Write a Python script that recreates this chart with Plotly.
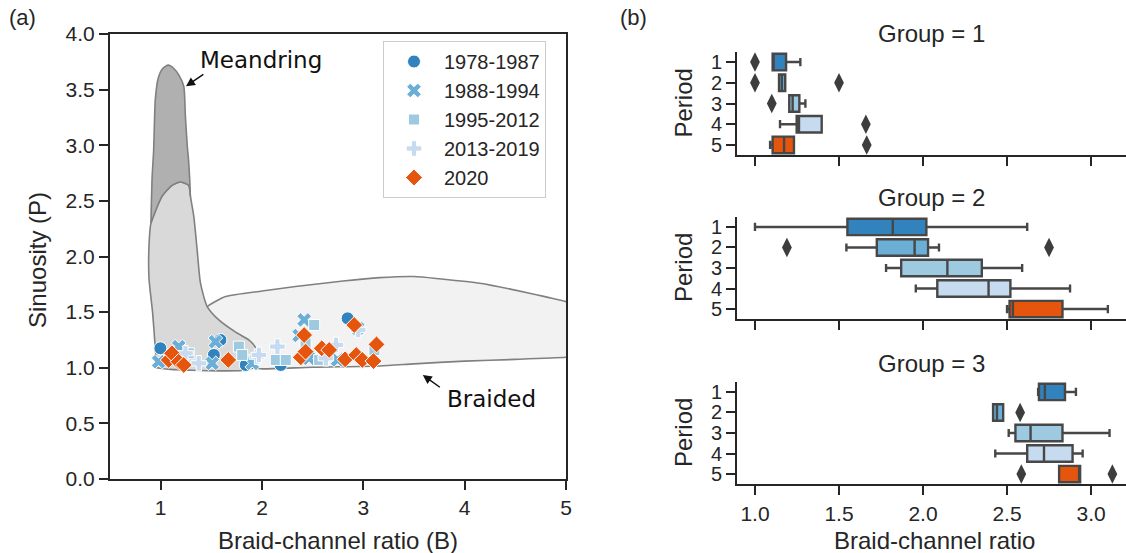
import plotly.graph_objects as go

W, H = 1126, 553

# ---------------- panel (a): channel-pattern envelopes ----------------
# outline vertices (braid-channel ratio B, sinuosity P)
braided_b = [1.35, 1.475, 1.64, 2.0, 2.33, 2.8, 3.16, 3.5, 3.75, 4.15, 4.64, 5.0, 5.3,
             5.3, 5.0, 4.5, 4.0, 3.5, 3.16, 2.5, 2.0, 1.9, 1.6, 1.4]
braided_p = [1.45, 1.56, 1.64, 1.69, 1.73, 1.78, 1.81, 1.82, 1.80, 1.76, 1.67, 1.594, 1.50,
             1.12, 1.094, 1.075, 1.06, 1.035, 1.016, 1.005, 0.99, 1.0, 1.2, 1.4]

meander_b = [0.96, 0.945, 0.92, 0.885, 0.885, 0.904, 1.013, 1.112, 1.195, 1.277, 1.294,
             1.327, 1.36, 1.393, 1.459, 1.574, 1.74, 1.87, 1.94, 1.955, 1.92, 1.8, 1.57,
             1.3, 1.1, 0.96]
meander_p = [1.0, 1.2, 1.5, 1.8, 2.1, 2.30, 2.54, 2.64, 2.67, 2.64, 2.54,
             2.36, 2.06, 1.76, 1.55, 1.43, 1.32, 1.25, 1.175, 1.07, 1.0, 0.975, 0.972,
             0.978, 0.985, 1.0]

meander_core_b = [0.904, 0.915, 0.931, 0.947, 0.975, 1.02, 1.075, 1.13, 1.18, 1.228,
                  1.244, 1.262, 1.275, 1.285, 1.294, 1.277, 1.195, 1.112, 1.013, 0.904]
meander_core_p = [2.30, 2.70, 2.96, 3.41, 3.60, 3.69, 3.72, 3.69, 3.63, 3.53,
                  3.26, 3.00, 2.87, 2.72, 2.54, 2.64, 2.67, 2.64, 2.54, 2.30]

# ---------------- panel (a): reaches by period ----------------
periods = ["1978-1987", "1988-1994", "1995-2012", "2013-2019", "2020"]
period_colors = ["#3182bd", "#6baed6", "#9ecae1", "#c6dbef", "#e6550d"]
period_symbols = ["circle", "x", "square", "cross", "diamond"]

b_1978 = [0.997, 1.525, 1.59, 1.84, 2.185, 2.845]
p_1978 = [1.175, 1.115, 1.25, 1.025, 1.025, 1.444]
b_1988 = [0.98, 1.178, 1.508, 1.54, 1.904, 2.366, 2.416, 2.465, 2.746, 2.944]
p_1988 = [1.054, 1.19, 1.04, 1.234, 1.04, 1.29, 1.43, 1.085, 1.07, 1.355]
b_1995 = [1.277, 1.772, 1.805, 2.136, 2.235, 2.43, 2.515, 2.564, 3.109]
p_1995 = [1.13, 1.19, 1.115, 1.07, 1.07, 1.22, 1.384, 1.07, 1.16]
b_2013 = [1.245, 1.376, 1.95, 1.97, 2.152, 2.63, 2.73, 2.95]
p_2013 = [1.13, 1.04, 1.10, 1.115, 1.19, 1.085, 1.205, 1.34]
b_2020 = [1.079, 1.112, 1.178, 1.228, 1.667, 2.383, 2.416, 2.43, 2.59, 2.663, 2.82,
          2.91, 2.93, 2.99, 3.10, 3.13]
p_2020 = [1.07, 1.13, 1.054, 1.025, 1.07, 1.094, 1.294, 1.145, 1.175, 1.16, 1.076,
          1.384, 1.115, 1.07, 1.06, 1.21]

# ---------------- panel (b): braid-channel ratio by group / period ----------------
period_ids = [1, 2, 3, 4, 5]
# group 1
g1_low = [1.105, 1.143, 1.204, 1.149, 1.09]
g1_q1 = [1.105, 1.143, 1.204, 1.248, 1.105]
g1_med = [1.11, 1.16, 1.224, 1.262, 1.173]
g1_q3 = [1.185, 1.18, 1.264, 1.397, 1.232]
g1_high = [1.27, 1.18, 1.30, 1.397, 1.232]
g1_out_b = [1.0, 1.0, 1.5, 1.10, 1.66, 1.665]
g1_out_period = [1, 2, 2, 3, 4, 5]
# group 2
g2_low = [1.0, 1.544, 1.78, 1.957, 2.50]
g2_q1 = [1.55, 1.725, 1.87, 2.085, 2.515]
g2_med = [1.82, 1.95, 2.145, 2.39, 2.535]
g2_q3 = [2.02, 2.03, 2.35, 2.52, 2.83]
g2_high = [2.62, 2.095, 2.59, 2.875, 3.10]
g2_out_b = [1.19, 2.75]
g2_out_period = [2, 2]
# group 3
g3_low = [2.685, 2.417, 2.51, 2.43, 2.81]
g3_q1 = [2.69, 2.417, 2.55, 2.62, 2.81]
g3_med = [2.725, 2.44, 2.64, 2.72, 2.93]
g3_q3 = [2.845, 2.477, 2.83, 2.89, 2.935]
g3_high = [2.91, 2.477, 3.11, 2.95, 2.935]
g3_out_b = [2.578, 2.585, 3.127]
g3_out_period = [2, 5, 5]

FONT = "Liberation Sans, Arial, sans-serif"
AXIS_COLOR = "#262626"
OUTLINE = "#808080"
BOX_EDGE = "#474747"


def px_x(px):
    return px / W


def px_y(py):
    return 1 - py / H


fig = go.Figure()

# envelopes, drawn from the widest to the densest
for bx, py_, fill in [(braided_b, braided_p, "#f2f2f2"),
                      (meander_b, meander_p, "#d9d9d9"),
                      (meander_core_b, meander_core_p, "#b0b0b0")]:
    fig.add_trace(go.Scatter(
        x=bx + [bx[0]], y=py_ + [py_[0]], mode="lines", fill="toself",
        fillcolor=fill, line=dict(color=OUTLINE, width=1.6, shape="spline", smoothing=0.6),
        hoverinfo="skip", showlegend=False, xaxis="x", yaxis="y"))

series_b = [b_1978, b_1988, b_1995, b_2013, b_2020]
series_p = [p_1978, p_1988, p_1995, p_2013, p_2020]
sizes = [13, 13, 11, 13, 13]
for name, bx, py_, col, sym, sz in zip(periods, series_b, series_p, period_colors,
                                       period_symbols, sizes):
    fig.add_trace(go.Scatter(
        x=bx, y=py_, mode="markers", name=name,
        marker=dict(color=col, symbol=sym, size=sz, line=dict(color="white", width=1)),
        xaxis="x", yaxis="y"))

# boxplots
groups = [
    (g1_low, g1_q1, g1_med, g1_q3, g1_high, g1_out_b, g1_out_period),
    (g2_low, g2_q1, g2_med, g2_q3, g2_high, g2_out_b, g2_out_period),
    (g3_low, g3_q1, g3_med, g3_q3, g3_high, g3_out_b, g3_out_period),
]
for gi, (lo, q1, med, q3, hi, ob, op) in enumerate(groups):
    xa = "x%d" % (gi + 2)
    ya = "y%d" % (gi + 2)
    for k, pid in enumerate(period_ids):
        fig.add_trace(go.Box(
            y=[pid], q1=[q1[k]], median=[med[k]], q3=[q3[k]],
            lowerfence=[lo[k]], upperfence=[hi[k]], orientation="h",
            width=0.8, whiskerwidth=0.5, boxpoints=False,
            fillcolor=period_colors[k], line=dict(color=BOX_EDGE, width=2.4),
            hoverinfo="skip", showlegend=False, xaxis=xa, yaxis=ya))
    fig.add_trace(go.Scatter(
        x=ob, y=op, mode="markers",
        marker=dict(symbol="diamond-tall", size=14, color="#3d3d3d"),
        hoverinfo="skip", showlegend=False, xaxis=xa, yaxis=ya))

tick_font = dict(family=FONT, size=21, color=AXIS_COLOR)
common = dict(showline=True, linecolor=AXIS_COLOR, linewidth=2, ticks="outside",
              ticklen=9, tickwidth=2, tickcolor=AXIS_COLOR, showgrid=False,
              zeroline=False, automargin=False)

layout = dict(
    template="none",
    width=W, height=H, margin=dict(l=0, r=0, t=0, b=0, pad=0, autoexpand=False),
    paper_bgcolor="white", plot_bgcolor="white",
    font=dict(family=FONT, color=AXIS_COLOR),
    xaxis=dict(domain=[px_x(110), px_x(566)], range=[0.5, 5], tickvals=[1, 2, 3, 4, 5],
               mirror=True, anchor="y", tickfont=tick_font, **common),
    yaxis=dict(domain=[px_y(479), px_y(34)], range=[0, 4],
               tickvals=[0, 0.5, 1, 1.5, 2, 2.5, 3, 3.5, 4],
               tickformat=".1f", mirror=True, anchor="x", tickfont=tick_font, **common),
    legend=dict(x=px_x(383), y=px_y(41), xanchor="left", yanchor="top",
                bgcolor="rgba(255,255,255,0.85)", bordercolor="#cccccc", borderwidth=1,
                font=dict(family=FONT, size=20, color=AXIS_COLOR), itemsizing="trace",
                itemwidth=50),
    showlegend=True,
)

panel_y = [(155.3, 51.7), (319.3, 216.7), (484.3, 381.7)]
for gi, (bot, top) in enumerate(panel_y):
    n = gi + 2
    layout["xaxis%d" % n] = dict(domain=[px_x(737), 1.0], range=[0.893, 3.208],
                                 tickvals=[1.0, 1.5, 2.0, 2.5, 3.0], tickformat=".1f",
                                 showticklabels=(gi == 2), anchor="y%d" % n,
                                 tickfont=tick_font, **common)
    layout["yaxis%d" % n] = dict(domain=[px_y(bot), px_y(top)], range=[5.5, 0.5],
                                 tickvals=period_ids, anchor="x%d" % n,
                                 tickfont=dict(family=FONT, size=20, color=AXIS_COLOR),
                                 **common)

fig.update_layout(**layout)

ann_font = dict(family=FONT, size=24, color=AXIS_COLOR)
label_font = dict(family="DejaVu Sans, sans-serif", size=23, color="#111111")
annotations = [
    dict(text="(a)", x=px_x(22), y=px_y(18), font=dict(family=FONT, size=22, color=AXIS_COLOR)),
    dict(text="(b)", x=px_x(633), y=px_y(18), font=dict(family=FONT, size=22, color=AXIS_COLOR)),
    dict(text="Sinuosity (P)", x=px_x(37), y=px_y(260), textangle=-90),
    dict(text="Braid-channel ratio (B)", x=px_x(338), y=px_y(540)),
    dict(text="Braid-channel ratio", x=px_x(934), y=px_y(540)),
]
for gi, cy in enumerate([33, 198, 363]):
    annotations.append(dict(text="Group = %d" % (gi + 1), x=px_x(931.5), y=px_y(cy)))
for cy in [103.5, 268, 433]:
    annotations.append(dict(text="Period", x=px_x(683), y=px_y(cy), textangle=-90))
for a in annotations:
    a.update(xref="paper", yref="paper", showarrow=False, xanchor="center",
             yanchor="middle")
    a.setdefault("font", ann_font)

# regime labels with pointers
annotations += [
    dict(text="Meandring", x=1.99, y=3.766, xref="x", yref="y", showarrow=False,
         font=label_font),
    dict(text="", x=1.25, y=3.53, ax=1.436, ay=3.647, xref="x", yref="y",
         axref="x", ayref="y", showarrow=True, arrowhead=2, arrowsize=1.2,
         arrowwidth=1.5, arrowcolor="#111111"),
    dict(text="Braided", x=4.264, y=0.719, xref="x", yref="y", showarrow=False,
         font=label_font),
    dict(text="", x=3.587, y=0.935, ax=3.77, ay=0.815, xref="x", yref="y",
         axref="x", ayref="y", showarrow=True, arrowhead=2, arrowsize=1.2,
         arrowwidth=1.5, arrowcolor="#111111"),
]
fig.update_layout(annotations=annotations)

fig.write_html("out.html")
